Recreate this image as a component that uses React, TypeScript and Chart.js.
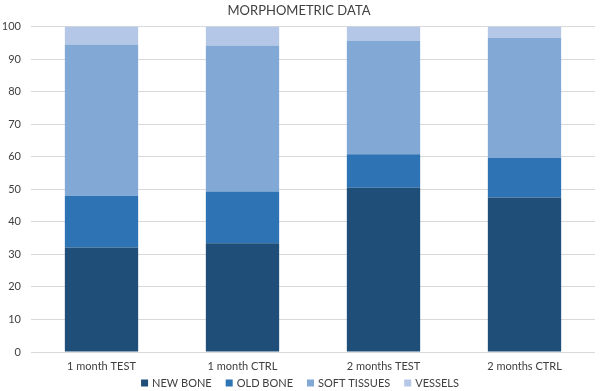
import React, { useEffect, useRef } from "react";
import { Chart, registerables } from "chart.js";

Chart.register(...registerables);

const categories = ["1 month TEST", "1 month CTRL", "2 months TEST", "2 months CTRL"];
const newBone = [32.1, 33.4, 50.5, 47.5];
const oldBone = [15.9, 15.9, 10.3, 12.1];
const softTissues = [46.5, 44.9, 34.8, 37.0];
const vessels = [5.5, 5.8, 4.4, 3.4];
const yTicks = [0, 10, 20, 30, 40, 50, 60, 70, 80, 90, 100];

const FONT = "Lato, 'Open Sans', sans-serif";

const bottomLegend = {
  id: "bottomLegend",
  afterDraw(chart: any) {
    const ctx = chart.ctx as CanvasRenderingContext2D;
    const items = chart.data.datasets.map((d: any) => ({ text: d.label, color: d.backgroundColor }));
    ctx.save();
    ctx.font = `11px ${FONT}`;
    const box = 7;
    const gapBox = 4;
    const gapItem = 14;
    const widths = items.map((it: any) => box + gapBox + ctx.measureText(it.text).width);
    const total = widths.reduce((a: number, b: number) => a + b, 0) + gapItem * (items.length - 1);
    let x = 300 - total / 2;
    const y = 383;
    ctx.textBaseline = "middle";
    ctx.textAlign = "left";
    items.forEach((it: any, i: number) => {
      ctx.fillStyle = it.color;
      ctx.fillRect(x, y - box / 2, box, box);
      ctx.fillStyle = "#404040";
      ctx.fillText(it.text, x + box + gapBox, y);
      x += widths[i] + gapItem;
    });
    ctx.restore();
  },
};

export default function App() {
  const ref = useRef<HTMLCanvasElement | null>(null);
  useEffect(() => {
    document.body.style.margin = "0";
    const ctx = ref.current!.getContext("2d")!;
    const chart = new Chart(ctx, {
      type: "bar",
      data: {
        labels: categories,
        datasets: [
          { label: "NEW BONE", data: newBone, backgroundColor: "#1F4E79" },
          { label: "OLD BONE", data: oldBone, backgroundColor: "#2E74B5" },
          { label: "SOFT TISSUES", data: softTissues, backgroundColor: "#82A9D6" },
          { label: "VESSELS", data: vessels, backgroundColor: "#B4C7E7" },
        ].map((d) => ({ ...d, categoryPercentage: 1, barPercentage: 0.52, borderWidth: 0 })),
      },
      options: {
        animation: false,
        responsive: false,
        maintainAspectRatio: false,
        layout: { padding: { left: 3, right: 5, top: 0, bottom: 18 } },
        plugins: {
          title: {
            display: true,
            text: "MORPHOMETRIC DATA",
            color: "#404040",
            font: { family: FONT, size: 13, weight: "normal" },
            padding: { top: 3, bottom: 8 },
          },
          legend: { display: false },
          tooltip: { enabled: false },
        },
        scales: {
          x: {
            stacked: true,
            grid: { display: false, drawTicks: false },
            border: { display: false },
            ticks: { color: "#404040", font: { family: FONT, size: 11 }, padding: 8 },
            afterFit: (axis: any) => {
              axis.height = 21;
            },
          },
          y: {
            stacked: true,
            min: 0,
            max: 100,
            afterBuildTicks: (axis: any) => {
              axis.ticks = yTicks.map((v) => ({ value: v }));
            },
            afterFit: (axis: any) => {
              axis.width = 28;
            },
            grid: { color: "#D9D9D9", drawTicks: false },
            border: { display: false },
            ticks: { color: "#404040", font: { family: FONT, size: 11 }, padding: 10 },
          },
        },
      },
      plugins: [bottomLegend],
    });
    return () => chart.destroy();
  }, []);
  return (
    <div style={{ width: 600, height: 391 }}>
      <canvas ref={ref} width={600} height={391} style={{ display: "block" }} />
    </div>
  );
}
